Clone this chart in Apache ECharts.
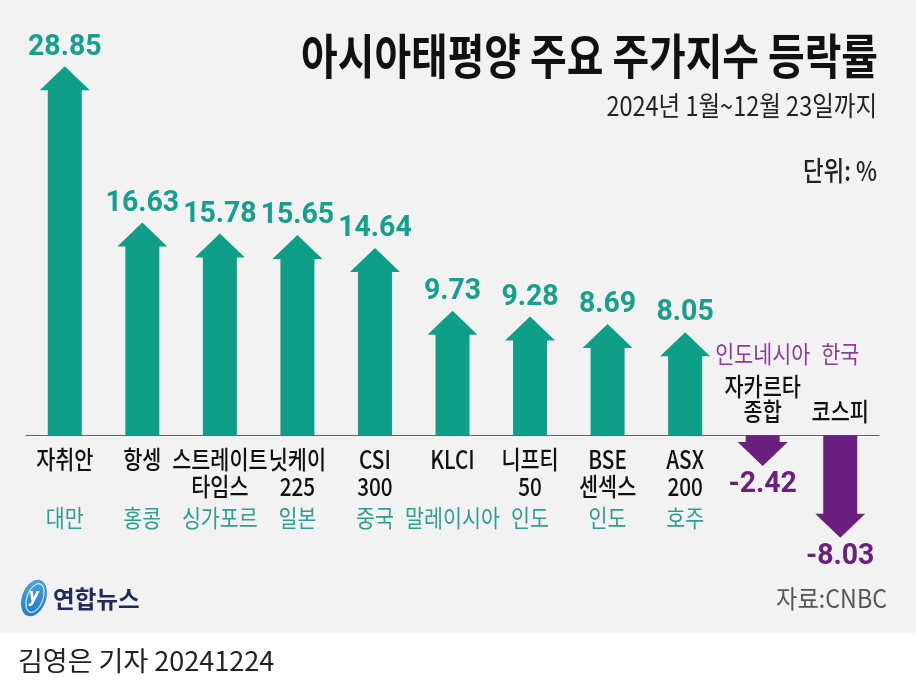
<!DOCTYPE html>
<html>
<head>
<meta charset="utf-8">
<script src="https://cdn.jsdelivr.net/npm/echarts@6/dist/echarts.min.js"></script>
<style>
html,body{margin:0;padding:0;background:#f2f2f2;}
#chart{width:916px;height:689px;}
</style>
</head>
<body>
<div id="chart"></div>
<script>
// ---- data ----
const categories = ['자취안', '항셍', '스트레이트\n타임스', '닛케이\n225', 'CSI\n300', 'KLCI', '니프티\n50', 'BSE\n센섹스', 'ASX\n200', '자카르타\n종합', '코스피'];
const countries = ['대만', '홍콩', '싱가포르', '일본', '중국', '말레이시아', '인도', '인도', '호주', '인도네시아', '한국'];
const values = [28.85, 16.63, 15.78, 15.65, 14.64, 9.73, 9.28, 8.69, 8.05, -2.42, -8.03];

const titleText = '아시아태평양 주요 주가지수 등락률';
const subtitleText = '2024년 1월~12월 23일까지';
const unitText = '단위: %';
const sourceText = '자료:CNBC';
const bylineText = '김영은 기자 20241224';

// ---- styles ----
const GREEN = '#0f9f88';
const GREEN_LABEL = '#14a08a';
const GREEN_COUNTRY = '#2e9f8e';
const PURPLE = '#6b1f80';
const PURPLE_COUNTRY = '#8a3aa0';
const KR = '"Noto Sans CJK KR", sans-serif';
const SW = 17, HW = 25, HEAD_LEN = 24;

function renderItem(params, api) {
  const i = api.value(0);
  const v = api.value(1);
  const base = api.coord([i, 0]);
  const tip = api.coord([i, v]);
  const cx = base[0], by = base[1], ty = tip[1];
  const up = v >= 0;
  const dir = up ? -1 : 1;
  const len = Math.abs(ty - by);
  const hl = Math.min(HEAD_LEN, len);
  const hy = ty - dir * hl;
  const color = up ? GREEN : PURPLE;
  const children = [];
  children.push({
    type: 'polygon',
    shape: { points: [[cx - SW, by], [cx - SW, hy], [cx - HW, hy], [cx, ty], [cx + HW, hy], [cx + SW, hy], [cx + SW, by]] },
    style: { fill: color }
  });
  children.push({
    type: 'text', x: cx, y: ty + dir * 19, scaleX: 0.98,
    style: { text: v.toFixed(2), fill: up ? GREEN_LABEL : PURPLE, fontSize: 29, fontWeight: 'bold', fontFamily: 'Roboto, sans-serif',
      align: 'center', verticalAlign: 'middle', textAlign: 'center', textVerticalAlign: 'middle' }
  });
  children.push({
    type: 'text', x: cx, y: up ? by + 10.5 : by - 11.5, scaleX: 0.83,
    style: { text: categories[i], fill: '#111', fontSize: 25, fontWeight: 500, fontFamily: KR,
      lineHeight: up ? 27 : 25,
      align: 'center', verticalAlign: up ? 'top' : 'bottom', textAlign: 'center', textVerticalAlign: up ? 'top' : 'bottom' }
  });
  children.push({
    type: 'text', x: cx, y: up ? by + 82.5 : by - 81, scaleX: 0.86,
    style: { text: countries[i], fill: up ? GREEN_COUNTRY : PURPLE_COUNTRY, fontSize: 24, fontWeight: 400, fontFamily: KR,
      align: 'center', verticalAlign: 'middle', textAlign: 'center', textVerticalAlign: 'middle' }
  });
  return { type: 'group', children };
}

const chart = echarts.init(document.getElementById('chart'));
chart.setOption({
  backgroundColor: '#f2f2f2',
  animation: false,
  grid: { left: 26, right: 37, top: 26, height: 537, containLabel: false },
  xAxis: {
    type: 'category', data: categories,
    axisLine: { show: true, onZero: true, lineStyle: { color: '#666', width: 1 } },
    axisTick: { show: false }, axisLabel: { show: false }, splitLine: { show: false }
  },
  yAxis: {
    type: 'value', min: -10, max: 32,
    axisLine: { show: false }, axisTick: { show: false }, axisLabel: { show: false }, splitLine: { show: false }
  },
  series: [{
    type: 'custom',
    clip: false,
    renderItem: renderItem,
    encode: { x: 0, y: 1 },
    data: values.map((v, i) => [i, v])
  }],
  graphic: [
    { type: 'rect', z: -10, shape: { x: 0, y: 633, width: 916, height: 56 }, style: { fill: '#ffffff' } },
    { type: 'text', x: 878, y: 56, scaleX: 0.83,
      style: { text: titleText, fill: '#111', font: 'bold 48px ' + KR, align: 'right', verticalAlign: 'middle', textAlign: 'right', textVerticalAlign: 'middle' } },
    { type: 'text', x: 877, y: 106, scaleX: 0.87,
      style: { text: subtitleText, fill: '#222', font: '400 27px ' + KR, align: 'right', verticalAlign: 'middle', textAlign: 'right', textVerticalAlign: 'middle' } },
    { type: 'text', x: 877, y: 171, scaleX: 0.83,
      style: { text: unitText, fill: '#222', font: '500 27px ' + KR, align: 'right', verticalAlign: 'middle', textAlign: 'right', textVerticalAlign: 'middle' } },
    { type: 'text', x: 887, y: 598, scaleX: 0.93,
      style: { text: sourceText, fill: '#555', font: '400 25px ' + KR, align: 'right', verticalAlign: 'middle', textAlign: 'right', textVerticalAlign: 'middle' } },
    { type: 'text', x: 18, y: 661,
      style: { text: bylineText, fill: '#222', font: '400 27px ' + KR, align: 'left', verticalAlign: 'middle', textAlign: 'left', textVerticalAlign: 'middle' } },
    // logo
    { type: 'ellipse', x: 34, y: 598, rotation: -0.35, shape: { cx: 0, cy: 0, rx: 12, ry: 19 },
      style: { fill: new echarts.graphic.LinearGradient(0, 0, 1, 1, [{ offset: 0, color: '#4aa8e8' }, { offset: 1, color: '#1f74c2' }]) } },
    { type: 'ellipse', x: 35, y: 598, rotation: -0.35, shape: { cx: 0, cy: 0, rx: 8, ry: 15 },
      style: { fill: 'none', stroke: 'rgba(255,255,255,0.8)', lineWidth: 1.2 } },
    { type: 'text', x: 34, y: 597,
      style: { text: 'y', fill: '#fff', font: 'italic bold 20px Roboto, sans-serif', align: 'center', verticalAlign: 'middle', textAlign: 'center', textVerticalAlign: 'middle' } },
    { type: 'text', x: 53, y: 599, scaleX: 0.98,
      style: { text: '연합뉴스', fill: '#1e2b5c', font: 'bold 24px ' + KR, align: 'left', verticalAlign: 'middle', textAlign: 'left', textVerticalAlign: 'middle' } }
  ]
});
</script>
</body>
</html>
